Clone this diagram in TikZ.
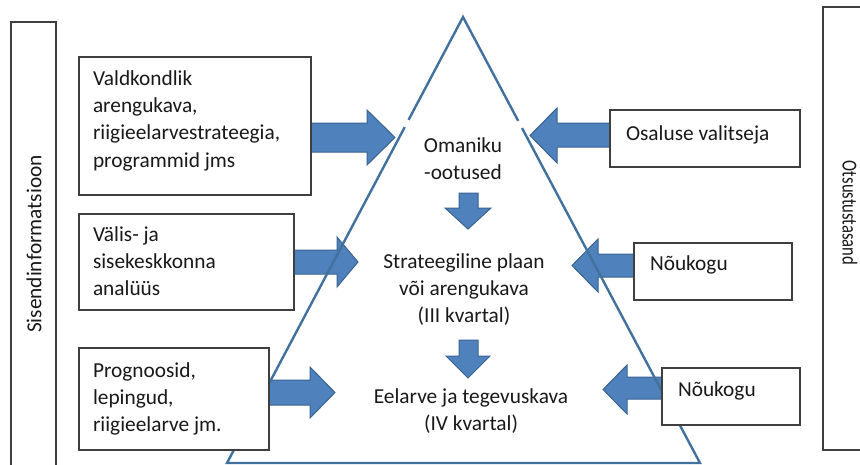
\documentclass[tikz,border=0pt]{standalone}
\usepackage{fontspec}
\setmainfont{Carlito}
\usetikzlibrary{fit}
\definecolor{afill}{HTML}{4F81BD}
\definecolor{aline}{HTML}{3A6391}
\definecolor{tri}{HTML}{41719C}
\definecolor{boxline}{HTML}{3F3F3F}
\begin{document}
\begin{tikzpicture}[x=0.75pt,y=-0.75pt,
  box/.style={draw=boxline, line width=0.9pt, fill=white, inner sep=0pt, outer sep=0pt},
  txt/.style={inner sep=0pt, outer sep=0pt, font=\fontsize{16}{20.6}\selectfont, text=black!90},
  blockarrow/.style={fill=afill, draw=aline, line width=0.75pt, line join=miter},
  triline/.style={draw=tri, line width=1.8pt, line join=miter}]
\useasboundingbox (0,0) rectangle (860,464);
\clip (0,0) rectangle (860,464);

% side boxes
\node[box, fit={(11,22) (56,475)}] (left) {};
\node[box, fit={(823,7) (880,450)}] (right) {};
\node[txt, rotate=90] (sis) at (34,244) {Sisendinformatsioon};
\node[txt, rotate=-90] (ots) at (850,213) {\scalebox{0.78}[1]{Otsustustasand}};

% block arrows
\fill[blockarrow] (311,123)--(367,123)--(367,110)--(395,137.5)--(367,165)--(367,152)--(311,152)--cycle;
\fill[blockarrow] (294,250)--(337,250)--(337,237)--(358,262)--(337,287)--(337,274)--(294,274)--cycle;
\fill[blockarrow] (269,380)--(310,380)--(310,367)--(335,392.5)--(310,418)--(310,405)--(269,405)--cycle;
\fill[blockarrow] (610,123)--(557,123)--(557,108)--(530,135.5)--(557,163)--(557,147)--(610,147)--cycle;
\fill[blockarrow] (634,254)--(598,254)--(598,239)--(572,265.5)--(598,292)--(598,277)--(634,277)--cycle;
\fill[blockarrow] (662,377)--(627,377)--(627,365)--(603,389.5)--(627,414)--(627,399)--(662,399)--cycle;
\fill[blockarrow] (459,193)--(478,193)--(478,208)--(491,208)--(468,229)--(445,208)--(459,208)--cycle;
\fill[blockarrow] (459,340)--(478,340)--(478,356)--(490,356)--(468,378)--(446,356)--(459,356)--cycle;

% triangle
\coordinate (apex) at (463,17);
\coordinate (br) at (700,463);
\coordinate (bl) at (227,463);
\draw[triline] (apex) -- (br) -- (bl) -- cycle;
\draw[white, line width=2.6pt] (408.5,120) -- (404.8,127);
\draw[white, line width=2.6pt] (518.3,121) -- (521.9,128);

% input boxes
\node[box, fit={(79,57) (311,195)}] (b1) {};
\node[box, fit={(79,214) (294,310)}] (b2) {};
\node[box, fit={(79,348) (269,450)}] (b3) {};
\node[txt, anchor=north west, align=left] (t1) at (93,65.8)
  {\strut Valdkondlik\\arengukava,\\riigieelarvestrateegia,\\programmid jms};
\node[txt, anchor=north west, align=left] (t2) at (93,221.8)
  {\strut Välis- ja\\sisekeskkonna\\analüüs};
\node[txt, anchor=north west, align=left] (t3) at (93,357.8)
  {\strut Prognoosid,\\lepingud,\\riigieelarve jm.};

% decision boxes
\node[box, fit={(610,110) (800,167)}] (r1) {};
\node[box, fit={(634,243) (792,300)}] (r2) {};
\node[box, fit={(662,368) (800,425)}] (r3) {};
\node[txt, anchor=base west] (u1) at (626,140) {Osaluse valitseja};
\node[txt, anchor=base west] (u2) at (650,270) {Nõukogu};
\node[txt, anchor=base west] (u3) at (678,396) {Nõukogu};

% triangle texts
\node[txt, anchor=north, align=center] (c1) at (463,132.8) {\strut Omaniku\\-ootused};
\node[txt, anchor=north, align=center] (c2) at (464,248.8) {\strut Strateegiline plaan\\või arengukava\\(III kvartal)};
\node[txt, anchor=north, align=center] (c3) at (471,383.8) {\strut Eelarve ja tegevuskava\\(IV kvartal)};
\end{tikzpicture}
\end{document}
